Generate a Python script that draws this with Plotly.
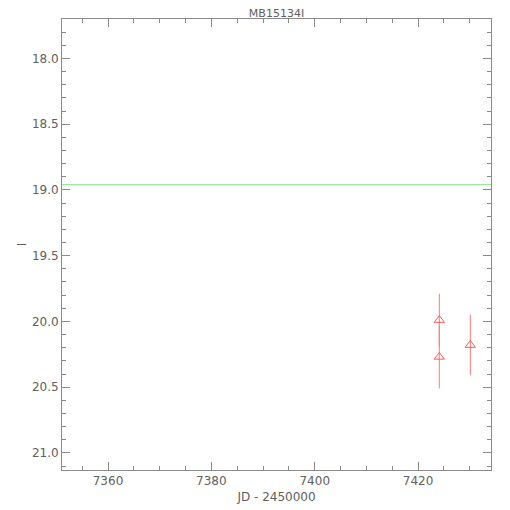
import plotly.graph_objects as go

title = "MB15134I"
jd = [7424.1, 7424.1, 7430.1]
mag = [19.99, 20.27, 20.18]
err = [0.20, 0.24, 0.23]
ref_mag = 18.96
x_range = [7351.1, 7434.1]
y_range = [21.13, 17.70]

grey = "#8a8a8a"
txt = "#606060"
font = dict(family="DejaVu Sans", size=12, color=txt)

fig = go.Figure()
fig.add_trace(go.Scatter(
    x=x_range, y=[ref_mag, ref_mag], mode="lines",
    line=dict(color="#86e886", width=1), hoverinfo="skip", showlegend=False))
fig.add_trace(go.Scatter(
    x=jd, y=mag, mode="markers",
    marker=dict(symbol="triangle-up-open", size=9, color="#ff5a5a", line=dict(width=1)),
    error_y=dict(type="data", array=err, color="#ff7a7a", thickness=1, width=0),
    showlegend=False))

axis_common = dict(
    showgrid=False, zeroline=False, showline=True, linecolor=grey, linewidth=1,
    mirror="ticks", ticks="inside", ticklen=8, tickcolor=grey, tickwidth=1,
    tickfont=font, automargin=False,
)
fig.update_xaxes(range=x_range, dtick=20, tick0=7360,
                 minor=dict(dtick=5, ticks="inside", ticklen=4, tickcolor=grey, showgrid=False),
                 title=dict(text="JD - 2450000", font=font, standoff=5),
                 **axis_common)
fig.update_yaxes(range=y_range, dtick=0.5, tick0=18.0, tickformat=".1f",
                 minor=dict(dtick=0.1, ticks="inside", ticklen=4, tickcolor=grey, showgrid=False),
                 title=dict(text="I", font=font, standoff=2),
                 **axis_common)
fig.update_layout(
    width=510, height=510,
    margin=dict(l=54, r=27, t=11, b=48),
    paper_bgcolor="white", plot_bgcolor="white",
    title=dict(text=title, x=0.5, xanchor="center", xref="paper",
               yref="container", y=1 - 5.5 / 510, yanchor="middle",
               font=dict(family="DejaVu Sans", size=11, color=txt), pad=dict(t=0, b=0)),
)
fig.write_html("out.html")
